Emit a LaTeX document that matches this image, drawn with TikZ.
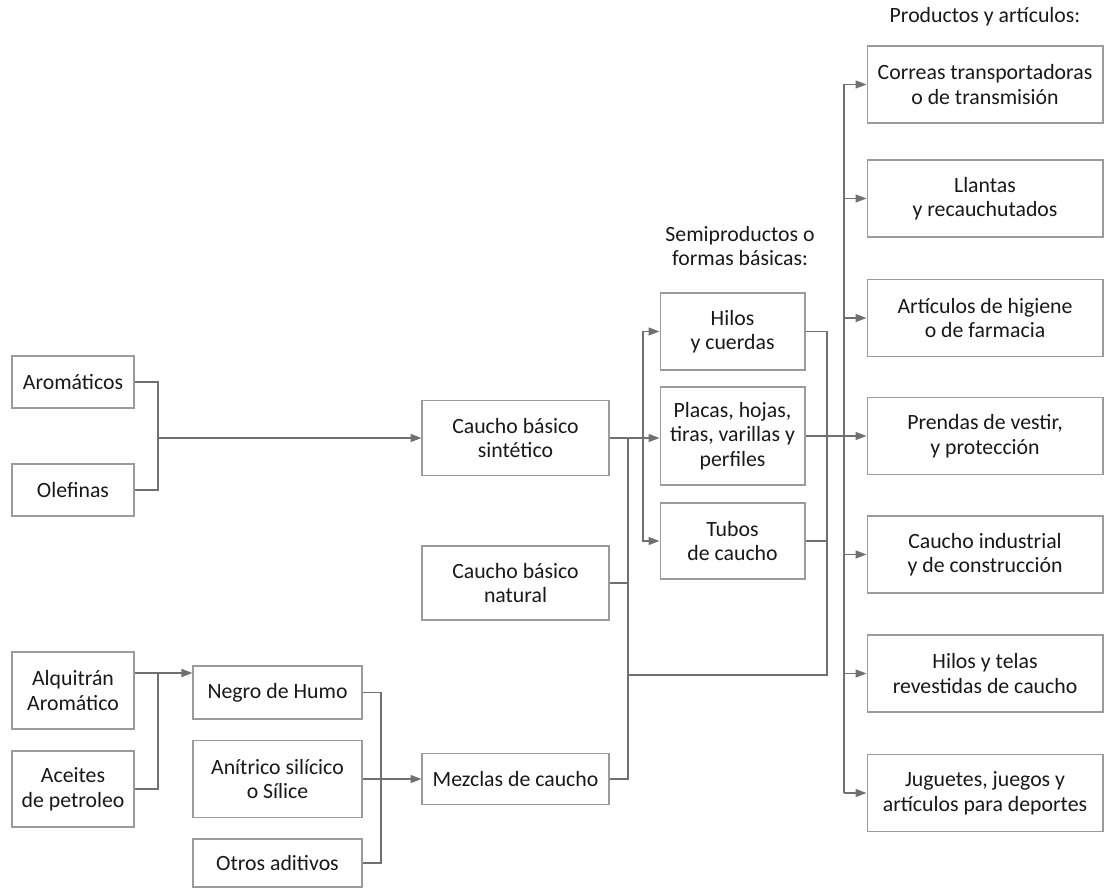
\documentclass[tikz,border=0pt]{standalone}
\usepackage{fontspec}
\setmainfont{Carlito}
\usetikzlibrary{arrows.meta}
\definecolor{lineagris}{RGB}{112,112,112}
\definecolor{bordegris}{RGB}{155,155,155}
\definecolor{textooscuro}{RGB}{25,25,25}

\begin{document}
\begin{tikzpicture}[x=0.02cm, y=-0.02cm,
    caja/.style={draw=bordegris, line width=0.6pt, fill=white, align=center,
      text=textooscuro, inner sep=2pt, font=\fontsize{12.4}{14}\selectfont},
    entrada/.style={caja, minimum width=2.44cm},
    caucho/.style={caja, minimum width=3.74cm},
    aditivo/.style={caja, minimum width=3.38cm},
    semi/.style={caja, minimum width=2.9cm},
    producto/.style={caja, minimum width=4.72cm, minimum height=1.54cm},
    linea/.style={draw=lineagris, line width=0.8pt},
    flecha/.style={linea, -{Triangle[length=2.2mm, width=1.6mm]}},
    titulo/.style={align=center, text=textooscuro, font=\fontsize{12.4}{14}\selectfont}]
        \useasboundingbox (0,0) rectangle (1104,888);

        % Materias primas
        \node[entrada, minimum height=1.04cm] (arom) at (73,382) {Aromáticos};
        \node[entrada, minimum height=1.04cm] (olef) at (73,490) {Olefinas};
        \node[entrada, minimum height=1.54cm] (alq) at (73,690.5) {Alquitrán\\Aromático};
        \node[entrada, minimum height=1.52cm] (acei) at (73,789) {Aceites\\de petroleo};

        % Aditivos
        \node[aditivo, minimum height=1.06cm] (neg) at (277.5,692.5) {Negro de Humo};
        \node[aditivo, minimum height=1.54cm] (anit) at (277.5,779) {Anítrico silícico\\o Sílice};
        \node[aditivo, minimum height=0.96cm] (otros) at (277.5,863) {Otros aditivos};

        % Caucho básico y mezclas
        \node[caucho, minimum height=1.5cm] (sint) at (515.5,438) {Caucho básico\\sintético};
        \node[caucho, minimum height=1.48cm] (nat) at (515.5,583) {Caucho básico\\natural};
        \node[caucho, minimum height=1.02cm] (mezc) at (515.5,779) {Mezclas de caucho};

        % Semiproductos
        \node[titulo] (tsemi) at (740,246) {Semiproductos o\\formas básicas:};
        \node[semi, minimum height=1.54cm] (hilos) at (732.5,331.5) {Hilos\\y cuerdas};
        \node[semi, minimum height=1.96cm] (placas) at (732.5,436) {Placas, hojas,\\tiras, varillas y\\perfiles};
        \node[semi, minimum height=1.52cm] (tubos) at (732.5,541) {Tubos\\de caucho};

        % Productos
        \node[titulo] (tprod) at (985,17) {Productos y artículos:};
        \node[producto] (corr) at (985,84.5) {Correas transportadoras\\o de transmisión};
        \node[producto] (llan) at (985,198.5) {Llantas\\y recauchutados};
        \node[producto] (art) at (985,318) {Artículos de higiene\\o de farmacia};
        \node[producto] (pren) at (985,436) {Prendas de vestir,\\y protección};
        \node[producto] (ind) at (985,554.5) {Caucho industrial\\y de construcción};
        \node[producto] (tel) at (985,673.5) {Hilos y telas\\revestidas de caucho};
        \node[producto] (jug) at (985,793) {Juguetes, juegos y\\artículos para deportes};

        % Puntos de union
        \coordinate (u1) at (158,438);
        \coordinate (u2) at (158,673);
        \coordinate (u3) at (381,779);
        \coordinate (u4) at (628,438);
        \coordinate (u5) at (643,438);
        \coordinate (u6) at (827,675);
        \coordinate (u7) at (844,436);

        % Hacia el caucho sintetico
        \draw[linea] (arom.east) -| (u1);
        \draw[linea] (olef.east) -| (u1);
        \draw[flecha] (u1) -- (sint.west);

        % Hacia el negro de humo
        \draw[linea] (acei.east) -| (u2);
        \draw[flecha] (alq.east |- u2) -- (neg.west |- u2);

        % Hacia las mezclas
        \draw[linea] (neg.east) -| (u3);
        \draw[linea] (otros.east) -| (u3);
        \draw[flecha] (anit.east) -- (mezc.west);

        % Caucho hacia semiproductos
        \draw[linea] (mezc.east) -| (u4);
        \draw[linea] (nat.east) -- (nat.east -| u4);
        \draw[flecha] (sint.east) -- (placas.west |- sint.east);
        \draw[flecha] (u5) |- (hilos.west);
        \draw[flecha] (u5) |- (tubos.west);

        % Salidas de semiproductos
        \draw[linea] (hilos.east) -| (u6) -- (u6 -| u4);
        \draw[linea] (tubos.east) -- (tubos.east -| u6);
        \draw[flecha] (placas.east) -- (pren.west);

        % Barra de productos
        \draw[linea] (u7 |- corr.west) -- (u7 |- jug.west);
        \draw[flecha] (u7 |- corr.west) -- (corr.west);
        \draw[flecha] (u7 |- llan.west) -- (llan.west);
        \draw[flecha] (u7 |- art.west) -- (art.west);
        \draw[flecha] (u7 |- ind.west) -- (ind.west);
        \draw[flecha] (u7 |- tel.west) -- (tel.west);
        \draw[flecha] (u7 |- jug.west) -- (jug.west);
\end{tikzpicture}
\end{document}
